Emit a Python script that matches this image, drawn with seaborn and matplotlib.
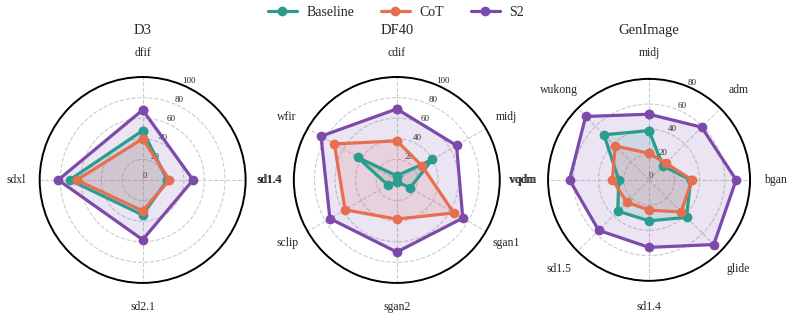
import numpy as np
import pandas as pd
import seaborn as sns
import matplotlib
matplotlib.use("Agg")
import matplotlib.pyplot as plt
from matplotlib.lines import Line2D

# values
methods = ["Baseline", "CoT", "S2"]
colors = {"Baseline": "#2a9d8f", "CoT": "#e76f51", "S2": "#7b4aab"}

d3_labels = ["dfif", "sd1.4", "sd2.1", "sdxl"]
d3_baseline = [48, 24, 34, 71]
d3_cot = [40, 26, 30, 64]
d3_s2 = [68, 49, 58, 82]

# DF40: only six categories carry values, vqdm / sd1.4 are labels only
df40_labels = ["cdif", "midj", "vqdm", "sgan1", "sgan2", "sclip", "sd1.4", "wfir"]
df40_label_deg = [0, 60, 90, 120, 180, 240, 270, 300]
df40_baseline = [4, 40, None, 15, 2, 10, None, 44]
df40_cot = [38, 28, None, 64, 38, 58, None, 70]
df40_s2 = [69, 67, None, 74, 70, 75, None, 85]

gen_labels = ["midj", "adm", "bgan", "glide", "sd1.4", "sd1.5", "vqdm", "wukong"]
gen_baseline = [39, 15.5, 33, 42, 32.5, 35, 24, 50.5]
gen_cot = [21, 18.7, 34, 36, 24, 25, 29, 38]
gen_s2 = [52, 59, 69, 72.5, 53.5, 56.5, 63, 71]

sns.set_theme(style="white")
plt.rcParams["font.family"] = ["Liberation Serif", "DejaVu Serif"]


def make_frame(deg, series):
    rows = []
    for m, vals in zip(methods, series):
        pts = [(np.deg2rad(d), v) for d, v in zip(deg, vals) if v is not None]
        pts = pts + [(pts[0][0] + 2 * np.pi, pts[0][1])]
        for t, v in pts:
            rows.append({"method": m, "theta": t, "value": v})
    return pd.DataFrame(rows)


def radar(rect, title, labels, deg, series, rmax, title_y, pad=4, hide_grid=()):
    ax = fig.add_axes(rect, projection="polar")
    ax.set_theta_offset(np.pi / 2)
    ax.set_theta_direction(-1)
    df = make_frame(deg, series)
    for m in methods:
        sub = df[df.method == m]
        ax.fill(sub.theta, sub.value, color=colors[m], alpha=0.15, lw=0)
    sns.lineplot(data=df, x="theta", y="value", hue="method", palette=colors,
                 sort=False, estimator=None, marker="o", markersize=7,
                 markeredgewidth=0, linewidth=2.3, legend=False, ax=ax)
    ax.set_xlabel("")
    ax.set_ylabel("")
    ax.set_xticks(np.deg2rad(deg))
    ax.set_xticklabels(labels, fontsize=8.5)
    ax.tick_params(axis="x", pad=pad)
    ax.set_ylim(0, rmax)
    ax.set_yticks(np.arange(0, rmax + 1, 20))
    ax.set_yticklabels([str(v) for v in np.arange(0, rmax + 1, 20)], fontsize=6.5)
    ax.set_rlabel_position(22.5)
    ax.grid(True, color="#cccccc", linestyle="--", linewidth=0.8)
    for i in hide_grid:
        ax.xaxis.get_gridlines()[i].set_visible(False)
    ax.spines["polar"].set_color("black")
    ax.spines["polar"].set_linewidth(1.4)
    ax.text(0.5, title_y, title, transform=ax.transAxes, ha="center",
            va="center", fontsize=10.5)
    return ax


fig = plt.figure(figsize=(7.92, 3.27), dpi=100)

radar([0.0501, 0.1346, 0.26, 0.63], "D3", d3_labels, [0, 90, 180, 270],
      [d3_baseline, d3_cot, d3_s2], 100, 1.228)
radar([0.371, 0.1346, 0.26, 0.63], "DF40", df40_labels, df40_label_deg,
      [df40_baseline, df40_cot, df40_s2], 100, 1.228, hide_grid=(2, 6))
radar([0.692, 0.141, 0.255, 0.618], "GenImage", gen_labels,
      [0, 45, 90, 135, 180, 225, 270, 315],
      [gen_baseline, gen_cot, gen_s2], 80, 1.24, pad=5.5)

handles = [Line2D([0], [0], color=colors[m], lw=2.3, marker="o", markersize=7,
                  markeredgewidth=0) for m in methods]
fig.legend(handles, methods, loc="upper center", bbox_to_anchor=(0.5, 1.02),
           ncol=3, frameon=False, fontsize=10, handlelength=2.1,
           handletextpad=0.7, columnspacing=1.9)

fig.savefig("out.png", dpi=100)
